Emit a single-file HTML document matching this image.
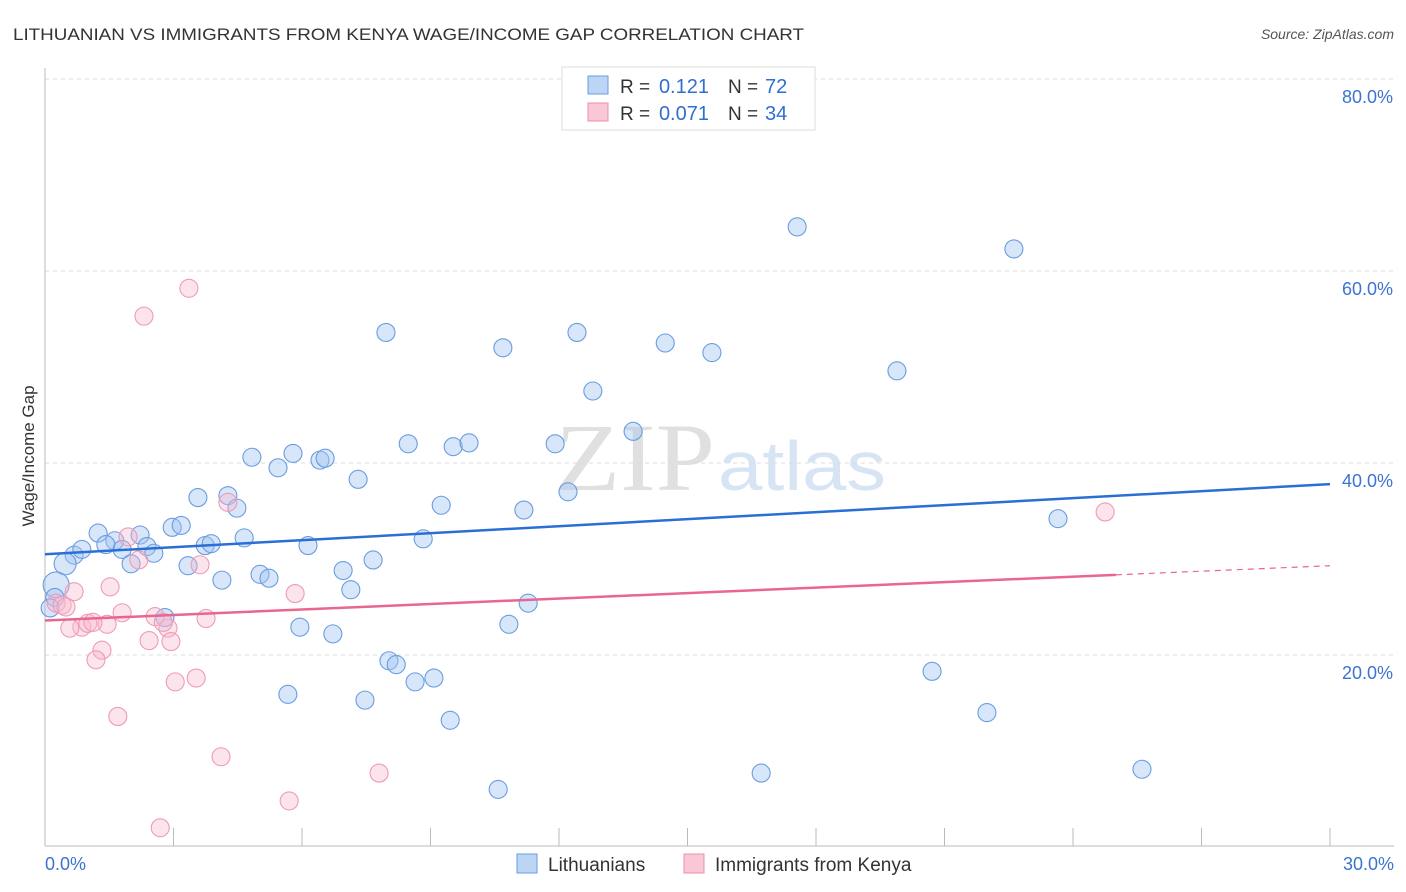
<!DOCTYPE html>
<html><head><meta charset="utf-8"><style>
body{margin:0;background:#fff;font-family:"Liberation Sans",sans-serif;}
#wrap{position:relative;width:1406px;height:892px;overflow:hidden;}
</style></head><body>
<div id="wrap">
<svg id="svg" width="1406" height="892" xmlns="http://www.w3.org/2000/svg" font-family="Liberation Sans, sans-serif">
<text x="13" y="40" font-size="17" fill="#333" textLength="791" lengthAdjust="spacingAndGlyphs">LITHUANIAN VS IMMIGRANTS FROM KENYA WAGE/INCOME GAP CORRELATION CHART</text>
<text x="1394" y="39" font-size="14" fill="#555" font-style="italic" text-anchor="end">Source: ZipAtlas.com</text>
<text x="555" y="490" font-size="96" fill="#e0e0e0" textLength="160" lengthAdjust="spacingAndGlyphs" font-family="Liberation Serif, serif">ZIP</text>
<text x="718" y="490" font-size="70" fill="#d6e4f4" textLength="168" lengthAdjust="spacingAndGlyphs">atlas</text>
<text transform="translate(34,456) rotate(-90)" font-size="17" fill="#333" text-anchor="middle">Wage/Income Gap</text>
<g id="grid"></g><g id="pts"></g><g id="lines"></g>
<g>
<rect x="562" y="67" width="253" height="63" fill="#fff" stroke="#ddd"/>
<rect x="588" y="76" width="20" height="18" fill="#bcd5f5" stroke="#6a9de0"/>
<rect x="588" y="103" width="20" height="18" fill="#f9c8d7" stroke="#ea8fae"/>
<text x="620" y="93" font-size="19" fill="#333">R =</text>
<text x="709" y="93" font-size="20" fill="#2f6fd0" text-anchor="end">0.121</text>
<text x="728" y="93" font-size="19" fill="#333">N =</text>
<text x="765" y="93" font-size="20" fill="#2f6fd0">72</text>
<text x="620" y="120" font-size="19" fill="#333">R =</text>
<text x="709" y="120" font-size="20" fill="#2f6fd0" text-anchor="end">0.071</text>
<text x="728" y="120" font-size="19" fill="#333">N =</text>
<text x="765" y="120" font-size="20" fill="#2f6fd0">34</text>
</g>
<text x="45" y="870" font-size="18" fill="#3a74d0">0.0%</text>
<text x="1394" y="870" font-size="18" fill="#3a74d0" text-anchor="end">30.0%</text>
<g>
<rect x="517" y="854" width="20" height="19" fill="#bcd5f5" stroke="#6a9de0"/>
<text x="548" y="871" font-size="19" fill="#333">Lithuanians</text>
<rect x="684" y="854" width="20" height="19" fill="#f9c8d7" stroke="#ea8fae"/>
<text x="715" y="871" font-size="19" fill="#333">Immigrants from Kenya</text>
</g>
</svg></div>
<script>
const yTicks=[20,40,60,80];
const yTickLabels=["20.0%","40.0%","60.0%","80.0%"];
const xTicks=[0,3,6,9,12,15,18,21,24,27,30];
const blueX=[17.56,22.62,7.96,12.42,10.69,14.48,15.57,19.89,12.79,13.73,8.48,9.53,9.90,11.91,5.79,4.83,5.44,6.42,6.54,7.31,3.57,4.27,4.48,9.25,11.18,12.21,23.65,1.24,2.22,2.97,3.18,4.65,1.63,1.42,1.80,2.38,2.54,3.74,3.88,6.14,8.83,0.68,0.47,0.86,2.01,3.34,4.13,5.02,5.23,6.96,7.66,7.14,0.26,0.23,0.12,2.80,11.28,5.95,6.72,10.83,8.03,8.20,20.71,8.64,9.08,5.67,7.47,9.46,21.99,16.72,25.61,10.58];
const blueY=[64.6,62.3,53.6,53.6,52.0,52.5,51.5,49.6,47.5,43.3,42.0,41.7,42.1,42.0,41.0,40.6,39.5,40.3,40.5,38.3,36.4,36.6,35.3,35.6,35.1,37.0,34.2,32.7,32.5,33.3,33.5,32.2,31.9,31.5,31.0,31.3,30.6,31.4,31.6,31.4,32.1,30.4,29.5,31.0,29.5,29.3,27.8,28.4,28.0,28.8,29.9,26.8,27.3,26.0,24.9,23.9,25.4,22.9,22.2,23.2,19.4,19.0,18.3,17.2,17.6,15.9,15.3,13.2,14.0,7.7,8.1,6.0];
const pinkX=[3.36,2.31,4.27,1.94,2.19,3.62,1.52,0.68,0.26,0.40,0.49,1.80,2.57,2.87,3.76,5.84,0.86,0.58,1.00,1.45,1.12,2.43,2.94,1.33,1.19,3.04,3.53,1.70,4.11,7.80,5.70,2.69,24.75,2.76];
const pinkY=[58.2,55.3,35.9,32.3,29.9,29.4,27.1,26.6,25.4,25.2,25.0,24.4,24.0,22.8,23.8,26.4,22.9,22.8,23.3,23.2,23.4,21.5,21.4,20.5,19.5,17.2,17.6,13.6,9.4,7.7,4.8,2.0,34.9,23.4];
const blueTrend=[30.5,37.8];
const pinkTrend=[23.6,29.3];
const pinkSolidEnd=25;
const NS="http://www.w3.org/2000/svg";
const X=v=>45+v/30*1285, Y=v=>847-v*9.6;
function mk(t,a,p){const e=document.createElementNS(NS,t);for(const k in a)e.setAttribute(k,a[k]);p.appendChild(e);return e;}
const grid=document.getElementById('grid');
yTicks.forEach((t,i)=>{
 const l=mk('line',{x1:45,x2:1394,y1:Y(t),y2:Y(t),stroke:'#ddd','stroke-dasharray':'4,4'},grid);
 
 
 const tx=mk('text',{x:1393,y:Y(t)+24,'font-size':18,fill:'#3a74d0','text-anchor':'end'},grid);
 tx.textContent=yTickLabels[i];
 
 
});
mk('line',{x1:45,x2:45,y1:68,y2:846,stroke:'#bbb'},grid);
mk('line',{x1:45,x2:1394,y1:846,y2:846,stroke:'#bbb'},grid);
xTicks.forEach(t=>{const l=mk('line',{x1:X(t),x2:X(t),y1:828,y2:846,stroke:'#bbb'},grid);
 
 });
const pts=document.getElementById('pts');
blueX.forEach((x,i)=>{const r=(x<0.5&&blueY[i]>26&&blueY[i]<28)?13:(x<0.5&&blueY[i]>29)?11:9;
 const c=mk('circle',{cx:X(x),cy:Y(blueY[i]),r:r,fill:'rgba(160,196,240,0.42)',stroke:'#6a9de0','stroke-width':1.1},pts);
 
 });
pinkX.forEach((x,i)=>{const c=mk('circle',{cx:X(x),cy:Y(pinkY[i]),r:9,fill:'rgba(248,184,204,0.38)',stroke:'#ee9bb8','stroke-width':1.1},pts);
 
 });
const lines=document.getElementById('lines');
const bl=mk('line',{x1:X(0),y1:Y(blueTrend[0]),x2:X(30),y2:Y(blueTrend[1]),stroke:'#2a6fd6','stroke-width':2.5},lines);


const pm=pinkTrend[0]+(pinkTrend[1]-pinkTrend[0])*pinkSolidEnd/30;
const pl=mk('line',{x1:X(0),y1:Y(pinkTrend[0]),x2:X(pinkSolidEnd),y2:Y(pm),stroke:'#e8668f','stroke-width':2.5},lines);


const pd=mk('line',{x1:X(pinkSolidEnd),y1:Y(pm),x2:X(30),y2:Y(pinkTrend[1]),stroke:'#e8668f','stroke-width':1.2,'stroke-dasharray':'6,5'},lines);


</script>
</body></html>
